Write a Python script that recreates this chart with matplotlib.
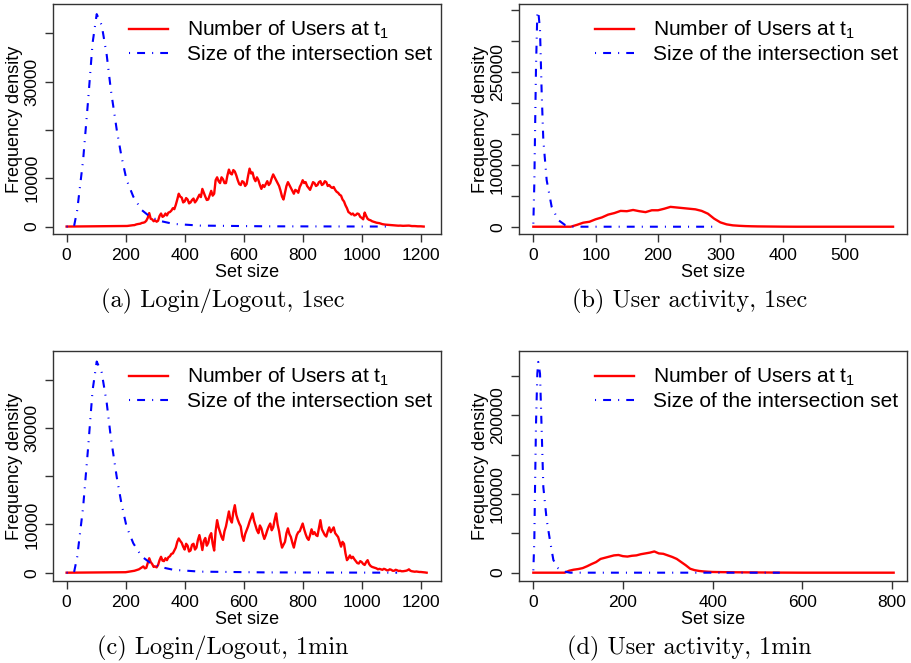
import matplotlib
matplotlib.use("Agg")
import matplotlib.pyplot as plt
import numpy as np

plt.rcParams["font.family"] = ["Liberation Sans", "DejaVu Sans"]
plt.rcParams["mathtext.default"] = "regular"

RED = "#ff0000"
BLUE = "#0000ff"
BOX = "#333333"

# (a) Login/Logout, 1sec  -- red read every 5 units starting at 200
a_users_y = [100, 120, 150, 200, 250, 280, 300, 420, 500, 550,
             600, 750, 800, 900, 1200, 1800, 2800, 1600, 1500, 1100,
             1300, 1000, 1200, 2200, 2700, 2000, 2200, 2700, 2300, 2900,
             3000, 3300, 3800, 3600, 4500, 5600, 6800, 6200, 6000, 5000,
             5200, 5900, 5600, 4800, 5000, 5500, 5800, 5000, 5400, 6000,
             6600, 6100, 7800, 7000, 6200, 5500, 5600, 6500, 7400, 6400,
             6800, 9600, 10200, 9400, 9000, 10200, 9800, 9000, 9000, 10600,
             11800, 11000, 10800, 11700, 11400, 10600, 9600, 8800, 8600, 9400,
             9200, 8400, 8800, 10500, 12000, 11000, 11200, 10000, 9400, 10200,
             9600, 8600, 7800, 8600, 8200, 8800, 9400, 8600, 9000, 10000,
             10800, 10200, 9600, 9000, 8400, 7400, 6200, 5600, 7000, 8400,
             9200, 8600, 8000, 7400, 6800, 7600, 7400, 7000, 8200, 8800,
             9600, 9000, 9200, 8400, 8000, 7600, 8400, 9200, 9000, 8400,
             8600, 9200, 9400, 8600, 8800, 9400, 9200, 8400, 8600, 8200,
             8000, 8200, 7600, 7200, 7000, 6600, 6400, 5600, 5200, 4400,
             3800, 3000, 2800, 2500, 2700, 2300, 2400, 2700, 2600, 2000,
             1800, 1500, 2900, 2200, 1600, 1400, 1300, 1100, 1000, 900,
             800, 750, 700, 600, 500, 450, 400, 380, 350, 320,
             300, 270, 250, 220, 200, 180, 200, 170, 150, 160,
             150, 180, 200, 140, 100, 110, 100, 70, 50, 60,
             50, 20, 0]
a_int_x = [0, 25, 36, 56, 73, 88, 102, 119, 136, 150, 170, 186, 203, 226,
           254, 282, 316, 362, 452, 678, 1100]
a_int_y = [0, 0, 3400, 13800, 26200, 38000, 44000, 41700, 35500, 28300,
           20000, 14500, 9700, 6200, 3450, 2070, 1170, 550, 200, 50, 0]

# (b) User activity, 1sec
b_users_x = [0, 60, 70, 80, 90, 100, 110, 120, 130, 140, 150, 160, 170,
             180, 190, 200, 210, 220, 230, 240, 250, 260, 270, 280, 290,
             300, 310, 320, 330, 340, 350, 360, 380, 400, 420, 577]
b_users_y = [0, 0, 3000, 6500, 8000, 12000, 15000, 19500, 22000, 25500,
             25000, 27000, 25000, 23500, 26500, 26500, 29000, 32000, 31000,
             30000, 29000, 28000, 25500, 21000, 13000, 7000, 3800, 2200,
             1500, 1000, 700, 500, 300, 100, 0, 0]
b_int_x = [0, 1.6, 2.7, 4.3, 6.4, 8, 10.7, 13.4, 16, 21.4, 29.4, 40, 51,
           61.5, 297]
b_int_y = [5000, 70000, 150000, 258000, 344000, 347000, 317000, 215000,
           140000, 75000, 32000, 10700, 2700, 0, 0]

# (c) Login/Logout, 1min  -- red read every 5 units starting at 200
c_users_y = [100, 150, 200, 250, 300, 350, 400, 500, 600, 700,
             900, 1100, 1300, 900, 1000, 2000, 3000, 2200, 1800, 1200,
             1300, 1100, 1600, 2600, 3300, 2500, 2400, 3000, 2600, 3200,
             3400, 3900, 4000, 4600, 5200, 6400, 7100, 6600, 6200, 5400,
             4800, 6000, 5600, 4400, 4600, 5800, 6000, 4800, 5200, 6800,
             7800, 6400, 4700, 6600, 7200, 5600, 6200, 7600, 8200, 6000,
             4600, 8600, 10900, 9400, 8400, 7400, 6800, 8600, 9600, 11200,
             12700, 11000, 10400, 12600, 14000, 12000, 11000, 10200, 9600, 7600,
             6600, 8000, 8800, 9600, 10600, 11400, 12300, 10800, 9800, 8800,
             8200, 9800, 9200, 8000, 7000, 7800, 8800, 9600, 10200, 8800,
             9400, 11000, 12300, 10000, 8600, 6600, 5200, 5800, 6400, 8200,
             9200, 8000, 7400, 6200, 5200, 6600, 7800, 8400, 8600, 9400,
             10200, 9000, 8000, 7200, 6800, 7800, 9000, 8000, 8400, 7800,
             7600, 9200, 10900, 9000, 8400, 7800, 7500, 8600, 9400, 8400,
             8900, 9400, 8200, 7800, 7400, 6400, 5400, 6400, 6000, 4000,
             2600, 3000, 3600, 3000, 3300, 2800, 2400, 2000, 1900, 2400,
             2200, 1800, 1600, 2200, 2600, 1800, 1400, 1200, 1100, 1000,
             900, 700, 800, 700, 600, 800, 700, 500, 500, 700,
             600, 400, 400, 600, 500, 350, 400, 300, 300, 350,
             400, 500, 700, 400, 300, 250, 200, 250, 200, 150,
             150, 120, 100, 50, 0]
c_int_x = [0, 25, 36, 56, 73, 88, 102, 119, 136, 150, 170, 186, 203, 226,
           254, 282, 316, 362, 452, 678, 1120]
c_int_y = [0, 0, 3300, 13600, 26000, 37800, 43800, 41500, 35200, 28000,
           19800, 14300, 9600, 6100, 3400, 2100, 1200, 600, 220, 60, 0]

# (d) User activity, 1min
d_users_x = [0, 70, 80, 90, 100, 110, 120, 130, 140, 150, 160, 170, 180,
             190, 200, 210, 220, 230, 240, 250, 260, 270, 280, 290, 300,
             310, 320, 330, 340, 350, 360, 370, 380, 390, 400, 420, 450,
             500, 550, 600, 804]
d_users_y = [0, 0, 2500, 3800, 4600, 5800, 8200, 11000, 13500, 17500,
             19000, 20500, 22000, 22500, 21000, 20500, 21500, 22000, 23500,
             24500, 25500, 27000, 24500, 24000, 22000, 20000, 17500, 13500,
             9500, 5000, 3200, 2200, 1600, 1200, 900, 700, 500, 300, 100,
             0, 0]
d_int_x = [0, 2.2, 3.7, 6, 8.9, 11, 14.9, 18.6, 22.3, 29.8, 37, 44.7,
           55.8, 70.7, 82, 550]
d_int_y = [3000, 41500, 105000, 190000, 253000, 268000, 253000, 181000,
           109000, 67000, 41500, 16100, 5500, 1300, 0, 0]

captions = ["(a) Login/Logout, 1sec", "(b) User activity, 1sec",
            "(c) Login/Logout, 1min", "(d) User activity, 1min"]


def draw_panel(ax, ux, uy, ix, iy, xlim, ylim, xticks, yticks, ylabels):
    ax.plot(ux, uy, color=RED, lw=1.7, label="Number of Users at t$_1$")
    ax.plot(ix, iy, color=BLUE, lw=1.5, linestyle=(0, (0.5, 3.4, 3.8, 3.4)),
            label="Size of the intersection set")
    ax.set_xlim(*xlim)
    ax.set_ylim(*ylim)
    ax.set_xticks(xticks)
    ax.set_yticks(yticks)
    ax.set_yticklabels(ylabels)
    for lbl in ax.get_yticklabels():
        lbl.set_rotation(90)
        lbl.set_va("center")
    for s in ax.spines.values():
        s.set_color(BOX)
        s.set_linewidth(1.0)
    ax.tick_params(length=6, width=1.0, color=BOX, labelsize=12.5, pad=4)
    ax.set_xlabel("Set size", fontsize=13, labelpad=1)
    ax.set_ylabel("Frequency density", fontsize=13, labelpad=1)
    ax.legend(loc="upper left", bbox_to_anchor=(0.197, 0.935), frameon=False,
              fontsize=15, handlelength=1.85, handletextpad=0.9,
              labelspacing=0.2, borderpad=0, borderaxespad=0)


fig = plt.figure(figsize=(9.11, 6.63), dpi=100)
pos = [[0.0582, 0.647, 0.426, 0.347], [0.5697, 0.647, 0.426, 0.347],
       [0.0582, 0.1237, 0.426, 0.347], [0.5697, 0.1237, 0.426, 0.347]]
axes = [fig.add_axes(p) for p in pos]

login_ticks = [0, 200, 400, 600, 800, 1000, 1200]
login_yt = [0, 10000, 20000, 30000, 40000]
login_yl = ["0", "10000", "", "30000", ""]

draw_panel(axes[0], [0] + list(np.arange(200, 200 + 5 * len(a_users_y), 5)),
           [0] + a_users_y, a_int_x, a_int_y, (-46, 1269), (-1550, 46100),
           login_ticks, login_yt, login_yl)
draw_panel(axes[1], b_users_x, b_users_y, b_int_x, b_int_y, (-23, 599.5),
           (-11800, 359000), [0, 100, 200, 300, 400, 500],
           list(range(0, 350001, 50000)),
           ["0", "", "100000", "", "", "250000", "", ""])
draw_panel(axes[2], [0] + list(np.arange(200, 200 + 5 * len(c_users_y), 5)),
           [0] + c_users_y, c_int_x, c_int_y, (-46, 1269), (-1720, 46000),
           login_ticks, login_yt, login_yl)
draw_panel(axes[3], d_users_x, d_users_y, d_int_x, d_int_y, (-32, 834),
           (-10560, 282000), [0, 200, 400, 600, 800],
           list(range(0, 250001, 50000)),
           ["0", "", "100000", "", "200000", ""])

cap_pos = [(0.245, 0.545), (0.757, 0.545), (0.245, 0.022), (0.757, 0.022)]
for (cx, cy), txt in zip(cap_pos, captions):
    fig.text(cx, cy, txt, ha="center", va="center", fontsize=17.5,
             family=["cmr10", "DejaVu Serif"])

fig.savefig("out.png", dpi=100)
